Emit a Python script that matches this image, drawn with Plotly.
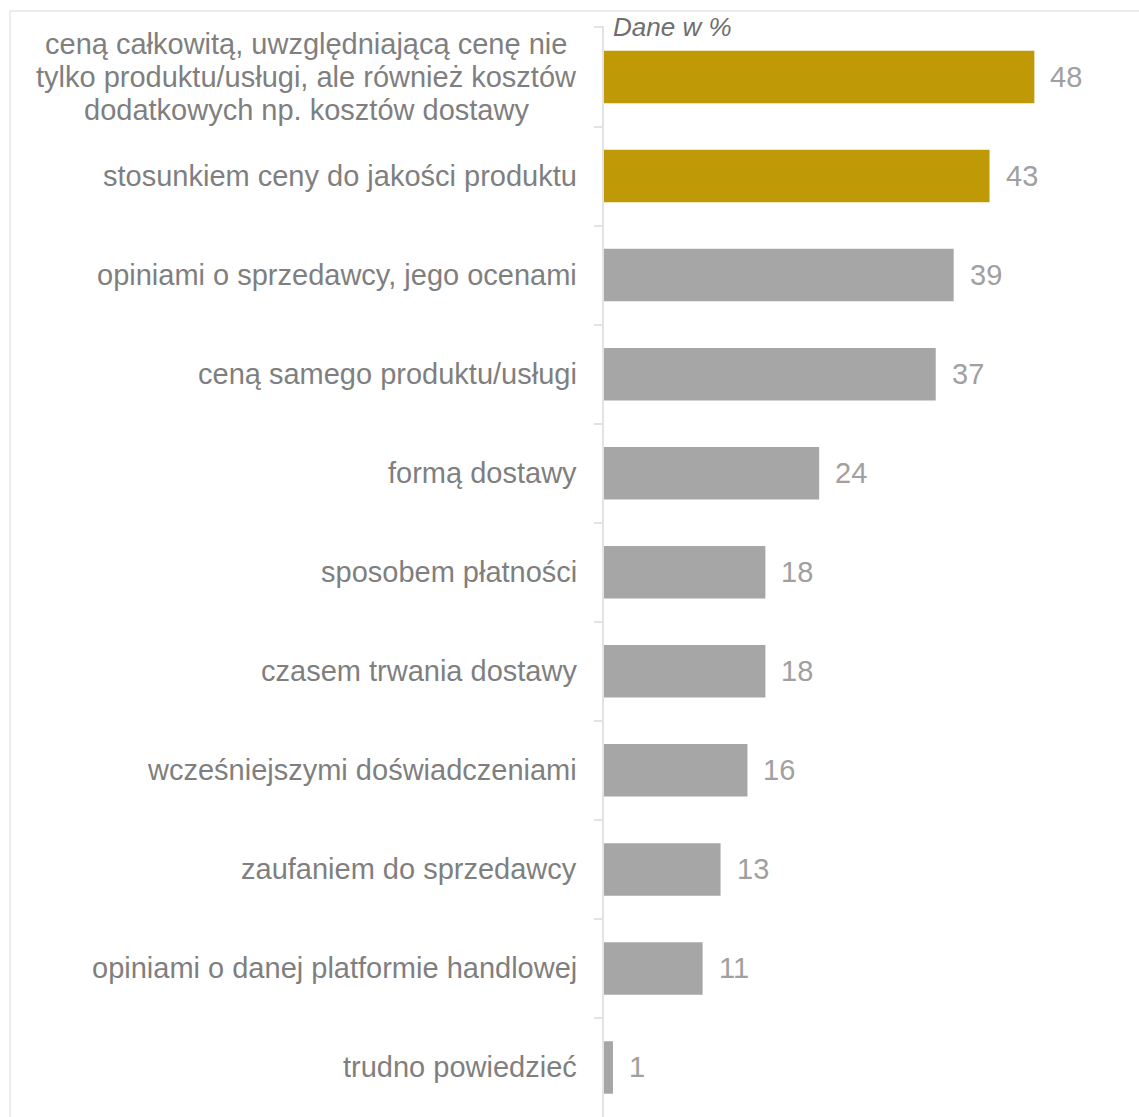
import plotly.graph_objects as go

# Survey answers, top to bottom
categories = [
    "ceną całkowitą, uwzględniającą cenę nie<br>tylko produktu/usługi, ale również kosztów<br>dodatkowych np. kosztów dostawy",
    "stosunkiem ceny do jakości produktu",
    "opiniami o sprzedawcy, jego ocenami",
    "ceną samego produktu/usługi",
    "formą dostawy",
    "sposobem płatności",
    "czasem trwania dostawy",
    "wcześniejszymi doświadczeniami",
    "zaufaniem do sprzedawcy",
    "opiniami o danej platformie handlowej",
    "trudno powiedzieć",
]
values = [48, 43, 39, 37, 24, 18, 18, 16, 13, 11, 1]
highlight = [True, True, False, False, False, False, False, False, False, False, False]

GOLD = "#BF9A06"
GREY = "#A6A6A6"
FONT = "Liberation Sans, Arial, sans-serif"
LABEL_SIZE = 29
LINE_H = 33  # line spacing for wrapped category labels

W, H = 1139, 1117
L, R, T, B = 604, 15, 26, 0

fig = go.Figure(
    go.Bar(
        x=values,
        y=categories,
        orientation="h",
        marker=dict(color=[GOLD if h else GREY for h in highlight], line=dict(width=0)),
        hoverinfo="skip",
    )
)

annotations = []
# Category labels: single lines right-aligned, wrapped labels drawn line by line, centred
for cat in categories:
    lines = cat.split("<br>")
    if len(lines) == 1:
        annotations.append(dict(
            x=0, y=cat, xref="x", yref="y", text=cat, showarrow=False,
            xanchor="right", yanchor="middle", xshift=-25,
            font=dict(family=FONT, size=LABEL_SIZE, color="#7F7F7F"),
        ))
    else:
        mid = (len(lines) - 1) / 2
        for i, line in enumerate(lines):
            annotations.append(dict(
                x=0, y=cat, xref="x", yref="y", text=line, showarrow=False,
                xanchor="center", yanchor="middle", xshift=-298,
                yshift=(mid - i) * LINE_H,
                font=dict(family=FONT, size=LABEL_SIZE, color="#7F7F7F"),
            ))
# Value labels
for cat, v in zip(categories, values):
    annotations.append(dict(
        x=v, y=cat, xref="x", yref="y", text=str(v), showarrow=False,
        xanchor="left", yanchor="middle", xshift=14,
        font=dict(family=FONT, size=LABEL_SIZE, color="#A0A0A0"),
    ))
annotations.append(dict(
    x=0, y=1, xref="paper", yref="paper", text="Dane w %", showarrow=False,
    xanchor="left", yanchor="middle", xshift=7, yshift=-1,
    font=dict(family=FONT, size=26, color="#6E6E6E", style="italic"),
))

# Light outer frame lines (top and left)
pw, ph = W - L - R, H - T - B
fx = (10 - L) / pw
fy = (H - B - 11) / ph
shapes = [
    dict(type="line", xref="paper", yref="paper", x0=fx, x1=(W - L + 5) / pw, y0=fy, y1=fy,
         line=dict(color="#E6E6E6", width=1.5)),
    dict(type="line", xref="paper", yref="paper", x0=fx, x1=fx, y0=fy, y1=-0.05,
         line=dict(color="#E6E6E6", width=1.5)),
]

fig.update_layout(
    width=W, height=H,
    margin=dict(l=L, r=R, t=T, b=B),
    paper_bgcolor="white", plot_bgcolor="white",
    bargap=0.47,
    showlegend=False,
    annotations=annotations,
    shapes=shapes,
    xaxis=dict(range=[0, 58], visible=False, fixedrange=True),
    yaxis=dict(
        type="category", autorange="reversed",
        showticklabels=False, showgrid=False, zeroline=False,
        showline=True, linecolor="#E3E3E3", linewidth=2,
        ticks="outside", tickson="boundaries", ticklen=8,
        tickcolor="#E3E3E3", tickwidth=2,
    ),
)

fig.write_html("out.html")
